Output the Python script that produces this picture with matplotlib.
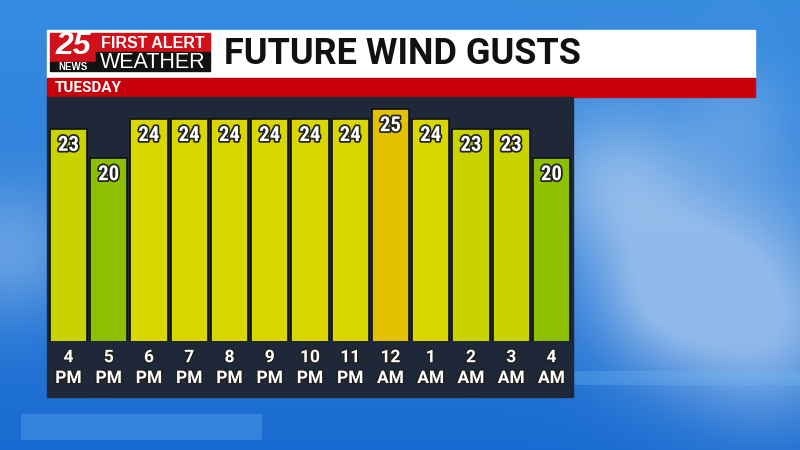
import numpy as np
import matplotlib.pyplot as plt
import matplotlib.patheffects as pe
from matplotlib import font_manager
from matplotlib.patches import Rectangle

# chart data
hours = ["4", "5", "6", "7", "8", "9", "10", "11", "12", "1", "2", "3", "4"]
ampm = ["PM", "PM", "PM", "PM", "PM", "PM", "PM", "PM", "AM", "AM", "AM", "AM", "AM"]
gusts = [23, 20, 24, 24, 24, 24, 24, 24, 25, 24, 23, 23, 20]
title = "FUTURE WIND GUSTS"
day = "TUESDAY"

color_map = {20: "#8cc000", 23: "#c8d300", 24: "#d9d600", 25: "#e2c200"}

installed = {f.name for f in font_manager.fontManager.ttflist}
narrow = next((f for f in ["Liberation Sans Narrow", "DejaVu Sans Condensed", "Roboto Condensed"]
               if f in installed), "Roboto")

W, H = 800, 450
fig = plt.figure(figsize=(8, 4.5), dpi=100)


def px(x0, y0, x1, y1):
    # pixel box (top-left origin) -> figure fraction rect
    return [x0 / W, 1 - y1 / H, (x1 - x0) / W, (y1 - y0) / H]


# background: blue sky gradient with soft clouds
bg = fig.add_axes([0, 0, 1, 1])
yy, xx = np.mgrid[0:H, 0:W]
top = np.array([0.22, 0.55, 0.88])
bot = np.array([0.10, 0.42, 0.82])
t = (yy / H)[..., None]
img = top * (1 - t) + bot * t
clouds = np.zeros((H, W))
for cx, cy, r, a in [(720, 260, 80, 0.55), (610, 180, 55, 0.5), (770, 340, 60, 0.4),
                     (660, 300, 50, 0.35), (10, 250, 50, 0.4), (740, 110, 40, 0.2)]:
    clouds += a * np.exp(-((xx - cx) ** 2 + (yy - cy) ** 2) / (2 * r ** 2))
clouds = np.clip(clouds, 0, 0.7)[..., None]
img = img * (1 - clouds) + np.array([0.75, 0.84, 0.95]) * clouds
band = (((yy > 413) & (yy < 440) & (xx > 20) & (xx < 262)) |
        ((yy > 370) & (yy < 385) & (xx > 573)))[..., None]
img = np.where(band, img * 0.7 + np.array([0.45, 0.72, 0.95]) * 0.3, img)
bg.imshow(np.clip(img, 0, 1), extent=[0, W, H, 0], aspect="auto")
bg.set_xlim(0, W)
bg.set_ylim(H, 0)
bg.axis("off")

# header boxes
bg.add_patch(Rectangle((47, 30), 708, 48, color="white"))
bg.add_patch(Rectangle((47, 78), 708, 19, color="#c8000a"))
bg.add_patch(Rectangle((47, 97), 526, 300, color="#1e2838"))

# logo
bg.add_patch(Rectangle((50, 33), 160, 19, color="#d0101a"))
bg.add_patch(Rectangle((50, 52), 46, 10, color="#d0101a"))
bg.add_patch(Rectangle((96, 52), 114, 19, color="#111111"))
bg.add_patch(Rectangle((50, 62), 46, 9, color="#111111"))
bg.text(73, 46, "25", color="white", fontsize=23, fontweight="bold", style="italic",
        ha="center", va="center", family="Liberation Sans")
bg.text(73, 67, "NEWS", color="white", fontsize=7, fontweight="bold",
        ha="center", va="center", family="Liberation Sans")
bg.text(153, 43, "FIRST ALERT", color="white", fontsize=11.5, fontweight="bold",
        ha="center", va="center", family="Liberation Sans")
bg.text(153, 62, "WEATHER", color="white", fontsize=15.5,
        ha="center", va="center", family="Liberation Sans")

bg.text(224, 54, title, color="#111111", fontsize=26, fontweight="bold",
        ha="left", va="center", family="Roboto")
bg.text(55, 88, day, color="white", fontsize=11, fontweight="bold",
        ha="left", va="center", family="Roboto")

# bars
ax = fig.add_axes(px(47, 97, 573, 341))
ax.set_facecolor("none")
x = np.arange(len(gusts))
cols = [color_map[g] for g in gusts]
ax.bar(x, gusts, width=0.92, color=cols, edgecolor="#111111", linewidth=1.2)
ax.set_xlim(-0.534, 12.534)
ax.set_ylim(1.33, 26.23)
ax.axis("off")

stroke = [pe.withStroke(linewidth=2.5, foreground="#222222")]
for xi, g in zip(x, gusts):
    ax.annotate(str(g), (xi, g), xytext=(0, -12), textcoords="offset points",
                ha="center", va="center", color="white", fontsize=15, fontweight="bold",
                family=narrow, path_effects=stroke)
    ax.annotate(hours[xi], (xi, 1.33), xytext=(0, -12), textcoords="offset points",
                ha="center", va="center", color="white", fontsize=12.5, fontweight="bold",
                family="Roboto", path_effects=stroke)
    ax.annotate(ampm[xi], (xi, 1.33), xytext=(0, -27), textcoords="offset points",
                ha="center", va="center", color="white", fontsize=12.5, fontweight="bold",
                family="Roboto", path_effects=stroke)

fig.savefig("out.png", dpi=100)
